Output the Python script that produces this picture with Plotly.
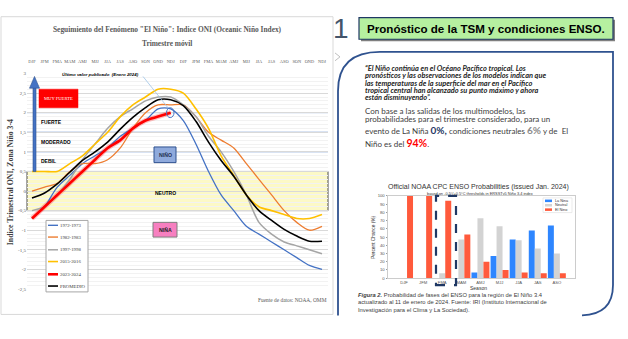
import plotly.graph_objects as go

W, H = 628, 339


def px(x):
    return x / W


def py(y):
    return 1 - y / H


# ---------------- DATA ----------------
oni_seasons = ["DJF", "JFM", "FMA", "MAM", "AMJ", "MJJ", "JJA", "JAS", "ASO", "SON", "OND", "NDJ",
               "DJF", "JFM", "FMA", "MAM", "AMJ", "MJJ", "JJA", "JAS", "ASO", "SON", "OND", "NDJ"]
oni_1972_1973 = [-0.7, -0.4, 0.1, 0.4, 0.7, 0.9, 1.1, 1.4, 1.6, 1.8, 2.1, 2.1,
                 1.8, 1.2, 0.5, -0.1, -0.5, -0.9, -1.1, -1.3, -1.5, -1.7, -1.9, -2.0]
oni_1982_1983 = [0.0, 0.1, 0.2, 0.5, 0.7, 0.7, 0.8, 1.1, 1.6, 2.0, 2.2, 2.2,
                 2.2, 1.9, 1.5, 1.3, 1.1, 0.7, 0.3, -0.1, -0.5, -0.8, -1.0, -0.9]
oni_1997_1998 = [-0.5, -0.4, -0.1, 0.3, 0.8, 1.2, 1.6, 1.9, 2.1, 2.3, 2.4, 2.4,
                 2.2, 1.9, 1.4, 1.0, 0.5, -0.1, -0.8, -1.1, -1.3, -1.4, -1.5, -1.6]
oni_2015_2016 = [0.5, 0.5, 0.5, 0.7, 0.9, 1.2, 1.5, 1.9, 2.2, 2.4, 2.6, 2.6,
                 2.5, 2.1, 1.6, 0.9, 0.4, -0.1, -0.4, -0.5, -0.6, -0.7, -0.7, -0.6]
oni_2023_2024 = [-0.7, -0.4, -0.1, 0.2, 0.5, 0.8, 1.1, 1.3, 1.6, 1.8, 1.9, 2.0]
oni_promedio = [-0.18, -0.05, 0.18, 0.48, 0.78, 1.0, 1.25, 1.58, 1.88, 2.13, 2.33, 2.33,
                2.18, 1.78, 1.25, 0.78, 0.38, -0.1, -0.5, -0.75, -0.98, -1.15, -1.28, -1.28]
series_names = ["1972-1973", "1982-1983", "1997-1998", "2015-2016", "2023-2024", "PROMEDIO"]
series_values = [oni_1972_1973, oni_1982_1983, oni_1997_1998, oni_2015_2016, oni_2023_2024, oni_promedio]
series_colors = ["#4472C4", "#ED7D31", "#A5A5A5", "#FFC000", "#FF0000", "#000000"]
series_widths = [1.3, 1.3, 1.5, 1.6, 2.6, 1.6]
y_ticks = [3, 2.5, 2, 1.5, 1, 0.5, 0, -0.5, -1, -1.5, -2, -2.5]
y_ticktext = ["3", "2,5", "2", "1,5", "1", "0,5", "0", "-0,5", "-1", "-1,5", "-2", "-2,5"]

prob_seasons = ["DJF", "JFM", "FMA", "MAM", "AMJ", "MJJ", "JJA", "JAS", "ASO"]
prob_lanina = [0, 0, 0, 0, 7, 27, 47, 58, 64]
prob_neutral = [0, 0, 6, 47, 73, 63, 46, 36, 30]
prob_elnino = [100, 100, 94, 53, 20, 10, 7, 6, 6]
prob_names = ["La Nina", "Neutral", "El Nino"]
prob_colors = ["#2E86FF", "#D3D3D3", "#FF5A3C"]
prob_ticks = [0, 10, 20, 30, 40, 50, 60, 70, 80, 90, 100]

fig = go.Figure()

# ---------------- LEFT: ONI lines ----------------
xs = list(range(len(oni_seasons)))
fig.add_trace(go.Scatter(x=xs[:len(oni_2023_2024)], y=oni_2023_2024, mode="lines",
                         line=dict(color="rgba(255,0,0,0.25)", width=5, shape="spline", smoothing=0.6),
                         hoverinfo="skip", showlegend=False, xaxis="x", yaxis="y"))
order = [0, 1, 2, 3, 5, 4]
for i in order:
    vals = series_values[i]
    fig.add_trace(go.Scatter(x=xs[:len(vals)], y=vals, mode="lines", name=series_names[i],
                             line=dict(color=series_colors[i], width=series_widths[i],
                                       shape="spline", smoothing=0.8),
                             showlegend=False, xaxis="x", yaxis="y"))

# ---------------- RIGHT: probabilities bars ----------------
bx = list(range(len(prob_seasons)))
for name, vals, col in zip(prob_names, [prob_lanina, prob_neutral, prob_elnino], prob_colors):
    fig.add_trace(go.Bar(x=bx, y=vals, name=name, marker=dict(color=col, line=dict(width=0)),
                         showlegend=False, xaxis="x2", yaxis="y2"))

slope = 290 / 23.0
x0r = -5 / slope
x1r = x0r + 301 / slope

fig.update_layout(
    width=W, height=H, margin=dict(l=0, r=0, t=0, b=0),
    paper_bgcolor="white", plot_bgcolor="rgba(0,0,0,0)",
    barmode="group", bargap=0.06, bargroupgap=0,
    xaxis=dict(domain=[px(27), px(328)], range=[x0r, x1r], side="top", anchor="y",
               tickvals=xs, ticktext=oni_seasons, showgrid=False, zeroline=False, tickangle=0,
               showline=False, ticks="", ticklabelstandoff=9,
               tickfont=dict(family="Liberation Serif", size=4.4, color="#595959")),
    yaxis=dict(domain=[py(292), py(72)], range=[-2.5, 3], tickvals=y_ticks, ticktext=y_ticktext,
               anchor="x",
               showgrid=True, gridcolor="#D9D9D9", gridwidth=0.8, zeroline=False, ticks="",
               showline=False,
               minor=dict(dtick=0.1, tick0=0, showgrid=True, gridcolor="#F2F2F2", gridwidth=0.6),
               tickfont=dict(family="Liberation Serif", size=5, color="#595959")),
    xaxis2=dict(domain=[px(388), px(575)], range=[-0.84, 8.95], tickvals=bx, ticktext=prob_seasons,
                anchor="y2", tickangle=0,
                showgrid=False, zeroline=False, showline=True, mirror=True, linecolor="#CCCCCC",
                linewidth=1, ticks="",
                tickfont=dict(family="Liberation Sans", size=4.2, color="#555")),
    yaxis2=dict(domain=[py(281), py(197)], range=[0, 100], tickvals=prob_ticks, anchor="x2",
                showgrid=False, zeroline=False, showline=True, mirror=True, linecolor="#CCCCCC",
                linewidth=1, ticks="outside", ticklen=1.5, tickcolor="#999",
                tickfont=dict(family="Liberation Sans", size=4.2, color="#555")),
    font=dict(family="Liberation Sans"),
)

shapes = []
annotations = []


def text(x, y, t, size, color="#000000", family="Liberation Sans", xanchor="center",
         yanchor="middle", **kw):
    annotations.append(dict(x=px(x), y=py(y), xref="paper", yref="paper", text=t, showarrow=False,
                            font=dict(size=size, color=color, family=family), xanchor=xanchor,
                            yanchor=yanchor, borderpad=0, **kw))


def rect(x0, y0, x1, y1, fill="rgba(0,0,0,0)", line="rgba(0,0,0,0)", lw=1, layer="above", dash=None):
    shapes.append(dict(type="rect", xref="paper", yref="paper", x0=px(x0), x1=px(x1), y0=py(y1),
                       y1=py(y0), fillcolor=fill, line=dict(color=line, width=lw, dash=dash),
                       layer=layer))


def seg(x0, y0, x1, y1, color, lw=1, dash=None):
    shapes.append(dict(type="line", xref="paper", yref="paper", x0=px(x0), y0=py(y0), x1=px(x1),
                       y1=py(y1), line=dict(color=color, width=lw, dash=dash)))


def P(x, y):
    return f"{px(x):.5f},{py(y):.5f}"


# left panel border
rect(1, 14, 333, 318, line="#D9D9D9", lw=1, layer="below")
# neutral band
shapes.append(dict(type="rect", xref="paper", yref="y", x0=px(27), x1=px(328), y0=-0.5, y1=0.5,
                   fillcolor="#FCF9C6", line=dict(color="#4D4D4D", width=1), layer="below"))
# intensity thresholds
for v in [1, 1.5, 2]:
    shapes.append(dict(type="line", xref="paper", yref="y", x0=px(27), x1=px(328), y0=v, y1=v,
                       line=dict(color="#B4C7E7", width=1.3), layer="below"))

# blue arrow
rect(33, 86, 36, 172, fill="#4472C4", line="#2F528F", lw=0.6)
shapes.append(dict(type="path", xref="paper", yref="paper",
                   path=f"M{P(29.5, 87)} L{P(39.5, 87)} L{P(34.5, 75)} Z",
                   fillcolor="#4472C4", line=dict(color="#2F528F", width=0.6)))

# MUY FUERTE box
rect(39, 88, 78, 107, fill="#FF0000", line="#FF0000", lw=0.5)
text(58.5, 97.5, "MUY FUERTE", 4.6, color="white", family="Liberation Sans Narrow")
text(40, 122, "<b>FUERTE</b>", 5, xanchor="left")
text(40, 142, "<b>MODERADO</b>", 5, xanchor="left")
text(40, 161, "<b>DEBIL</b>", 5, xanchor="left")
text(165, 194, "<b>NEUTRO</b>", 5)

# NIÑO / NIÑA boxes
rect(154, 147, 176, 163, fill="#8FAADC", line="#2F528F", lw=1)
text(165, 155, "<b>NIÑO</b>", 5.2, color="#1F2F4F")
rect(153, 224, 177, 239, fill="#F77FC0", line="#7F7F7F", lw=1)
text(165, 231.5, "<b>NIÑA</b>", 5.2, color="#202020")

# last published value
text(61, 73, "<b><i>Último valor publicado  (Enero 2024)</i></b>", 4.4, xanchor="left")
seg(143, 75, 168, 107, "#9DC3E6", 0.8)
shapes.append(dict(type="circle", xref="paper", yref="paper", x0=px(166.5), x1=px(174),
                   y0=py(117), y1=py(107), line=dict(color="#4472C4", width=1)))

# left titles
text(167, 27, "<b>Seguimiento del Fenómeno \"El Niño\": Indice ONI (Oceanic Niño Index)</b>", 7.4,
     color="#595959", family="Liberation Serif")
text(167, 41, "<b>Trimestre móvil</b>", 7.4, color="#595959", family="Liberation Serif")
text(10, 183, "<b>Indice Trimestral ONI, Zona Niño 3-4</b>", 7.8, color="#404040",
     family="Liberation Serif", textangle=-90)
text(328, 303, "Fuente de datos: NOAA, OMM", 5.4, color="#595959", family="Liberation Serif",
     xanchor="right")

# left legend
rect(46, 222, 88, 295, fill="white", line="#A6A6A6", lw=1)
leg_y = [227, 239, 252, 264, 277, 289]
for name, col, lw, yy in zip(series_names, series_colors, series_widths, leg_y):
    seg(48, yy, 58, yy, col, max(lw, 1.4))
    text(59, yy, name, 4.8, color="#404040", family="Liberation Serif", xanchor="left")

# ---------------- right slide part ----------------
text(341, 26, "1", 28, color="#44546A", family="Liberation Sans")
shapes.append(dict(type="path", xref="paper", yref="paper",
                   path=f"M{P(335, 51)} L{P(340, 55)} L{P(335, 59)}",
                   line=dict(color="#BFBFBF", width=1)))

# title box
rect(361, 17, 615, 39, fill="#7F7F7F", line="#7F7F7F", lw=0)
rect(359, 15, 613, 37, fill="#B6F0A0", line="#1F3864", lw=1.2)
text(486, 26, "<b>Pronóstico de la TSM y condiciones ENSO.</b>", 11.6, color="#000000",
     family="Liberation Sans")

# rounded panel
shapes.append(dict(type="path", xref="paper", yref="paper",
                   path=(f"M{P(338, 319)} L{P(338, 90)} Q{P(338, 50)} {P(380, 50)} L{P(613, 50)} "
                         f"L{P(613, 288)} Q{P(613, 318)} {P(582, 319)}"),
                   line=dict(color="#2F528F", width=1.8)))

quote = ["“El Niño continúa en el Océano Pacífico tropical. Los",
         "pronósticos y las observaciones de los modelos indican que",
         "las temperaturas de la superficie del mar en el Pacífico",
         "tropical central han alcanzado su punto máximo y ahora",
         "están disminuyendo”."]
for t, yy in zip(quote, [67, 74.4, 81.8, 89.2, 96.6]):
    text(364, yy, f"<b><i>{t}</i></b>", 7.4, color="#262626", family="Lato", xanchor="left")

text(364, 110, "Con base a las salidas de los multimodelos, las", 8.0, color="#404040",
     family="Lato", xanchor="left")
text(364, 118, "probabilidades para el trimestre considerado, para un", 8.0, color="#404040",
     family="Lato", xanchor="left")
text(364, 130, "evento de La Niña <b><span style='font-size:10px;color:#1F3864'>0%,</span></b> "
               "condiciones neutrales <b><span style='font-size:10px;color:#8C8C8C'>6%</span></b> y de  El",
     8.0, color="#404040", family="Lato", xanchor="left")
text(364, 143, "Niño es del <b><span style='font-size:10.5px;color:#FF0000'>94%</span></b>.", 8.0,
     color="#404040", family="Lato", xanchor="left")

# bar chart texts
text(478, 188, "Official NOAA CPC ENSO Probabilities (issued Jan. 2024)", 7.0, color="#333333",
     family="Liberation Sans")
text(480, 195, "based on -0.5°/+0.5°C thresholds in ERSSTv5 Niño 3.4 index", 3.9, color="#333333",
     family="Liberation Sans")
text(373, 239, "Percent Chance (%)", 4.8, color="#333333", textangle=-90)
text(478, 291, "Season", 5.0, color="#333333")

# dashed highlight on FMA
rect(436, 197, 456, 288, line="#1F3864", lw=2.2, dash="dash")

# bar legend
rect(543, 199, 572, 214, fill="white", line="#DDDDDD", lw=0.6)
for name, col, yy in zip(prob_names, prob_colors, [202, 206.5, 211]):
    rect(545, yy - 1.3, 552, yy + 1.3, fill=col, line=col, lw=0)
    text(554, yy, name, 3.8, color="#333333", xanchor="left")

# caption
text(357, 298, "<b><i>Figura 2.</i></b> Probabilidad de fases del ENSO para la región de El Niño 3.4",
     5.8, color="#404040", xanchor="left")
text(357, 305.5, "actualizado al 11 de enero de 2024. Fuente: IRI (Instituto Internacional de", 5.8,
     color="#404040", xanchor="left")
text(357, 313, "Investigación para el Clima y La Sociedad).", 5.8, color="#404040", xanchor="left")

fig.update_layout(shapes=shapes, annotations=annotations)
fig.write_html("out.html")
